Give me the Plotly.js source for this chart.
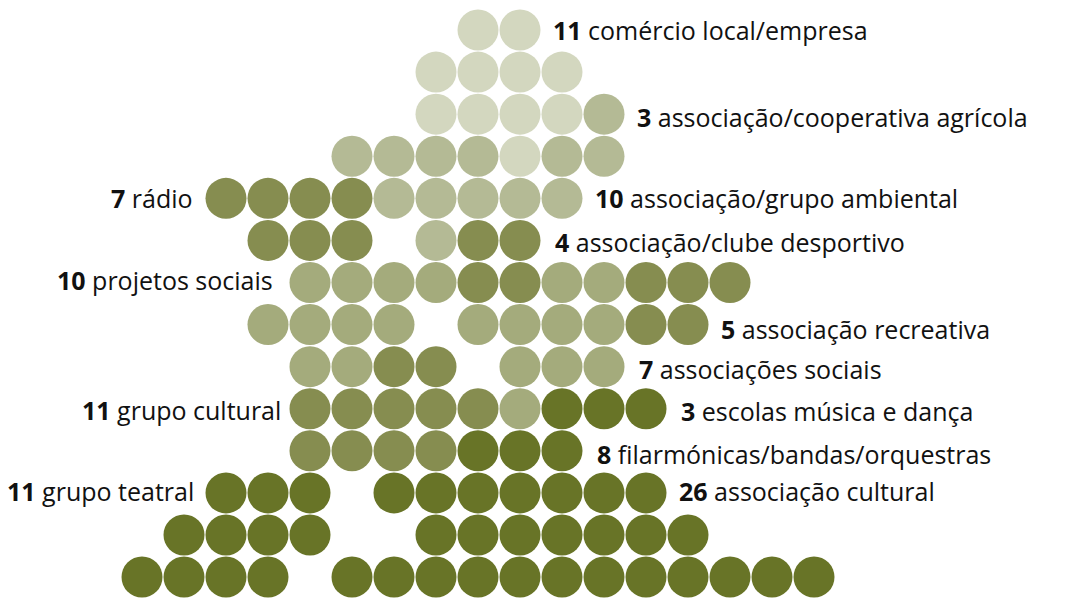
<!DOCTYPE html>
<html><head><meta charset="utf-8">
<script src="https://cdn.plot.ly/plotly-3.0.1.min.js"></script>
<style>html,body{margin:0;padding:0;background:#fff}#chart{width:1066px;height:598px}</style>
</head><body><div id="chart"></div>
<script>
// Unit grid: each letter is one organisation, coloured by tone group; '.' = empty slot
const gridRows = [
  "........AA",
  ".......AAAA",
  ".......AAAAB",
  ".....BBBBABB",
  "..DDDDBBBBB",
  "...DDD.BDD",
  "....CCCCDDCCDDD",
  "...CCCC.CCCCDD",
  "....CCDD.CCC",
  "....DDDDDCEEE",
  "....DDDDEEE",
  "..EEE.EEEEEEE",
  ".EEEE..EEEEEEE",
  "EEEE.EEEEEEEEEEEE"
];
const tones = ["A","B","C","D","E"];
const toneColors = {A:"#d3d7bf", B:"#b4ba95", C:"#a4ab7c", D:"#868d50", E:"#687427"};

// Category labels
const labelCounts = ["11","3","7","10","4","10","5","7","11","3","8","11","26"];
const labelNames = ["comércio local/empresa","associação/cooperativa agrícola","rádio","associação/grupo ambiental",
  "associação/clube desportivo","projetos sociais","associação recreativa","associações sociais",
  "grupo cultural","escolas música e dança","filarmónicas/bandas/orquestras","grupo teatral","associação cultural"];
// label anchor (grid column, grid row, side)
const labelCol = [9.73, 11.73, 1.26, 10.73, 9.78, 3.16, 13.73, 11.78, 3.36, 12.78, 10.78, 1.28, 12.73];
const labelRow = [1, 3.07, 5, 5, 6.04, 6.95, 8.1, 9.05, 10.02, 10.05, 11.07, 11.95, 11.95];
const labelSide = ["l","l","r","l","l","r","l","l","r","l","l","r","l"];

const traces = tones.map(t => {
  const xs = [], ys = [];
  gridRows.forEach((row, r) => {
    for (let c = 0; c < row.length; c++) if (row[c] === t) { xs.push(c); ys.push(r + 1); }
  });
  return {type:"scatter", mode:"markers", x:xs, y:ys, hoverinfo:"skip",
    marker:{size:41, color:toneColors[t], line:{width:0}}, showlegend:false};
});

const annotations = labelNames.map((n, i) => ({
  x: labelCol[i], y: labelRow[i], xref:"x", yref:"y", showarrow:false,
  xanchor: labelSide[i] === "l" ? "left" : "right", yanchor:"middle",
  text: "<b>" + labelCounts[i] + "</b> " + n,
  font:{family:"'Open Sans', Lato, sans-serif", size:25, color:"#111"}
}));

const layout = {
  width:1066, height:598, margin:{l:0,r:0,t:0,b:0},
  paper_bgcolor:"#fff", plot_bgcolor:"#fff",
  xaxis:{range:[-142/42, (1066-142)/42], visible:false, fixedrange:true},
  yaxis:{range:[1 + (598-30)/42.08, 1 - 30/42.08], visible:false, fixedrange:true},
  annotations: annotations
};
Plotly.newPlot("chart", traces, layout, {displayModeBar:false, staticPlot:true});
</script></body></html>
